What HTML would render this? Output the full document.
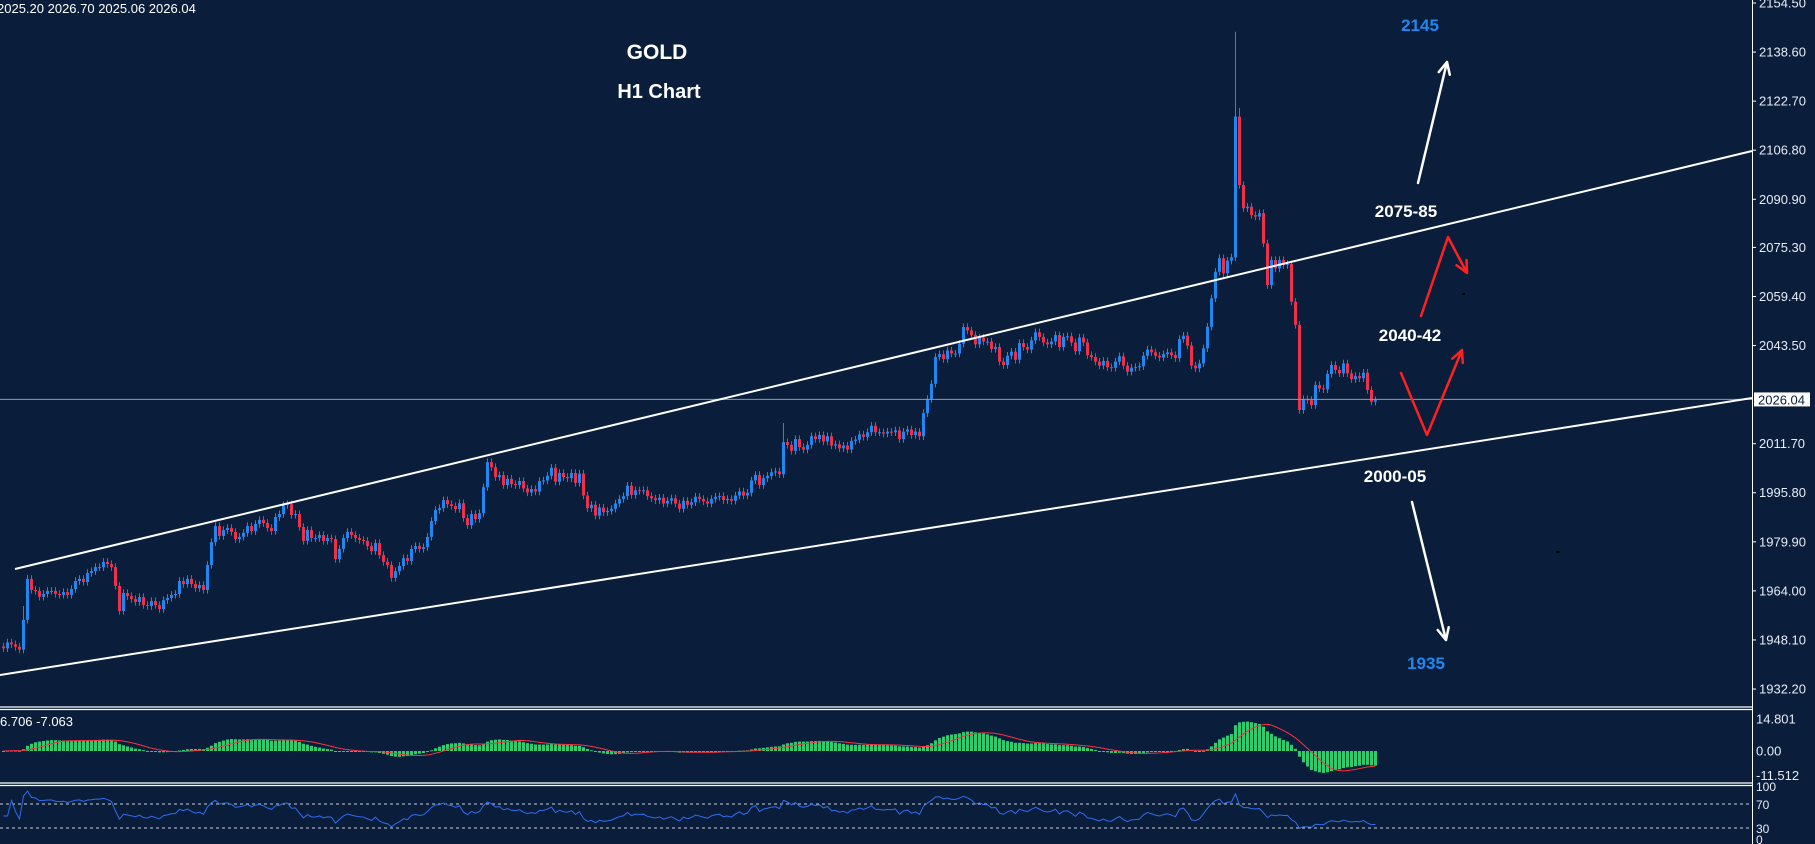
<!DOCTYPE html>
<html><head><meta charset="utf-8"><title>GOLD H1 Chart</title>
<style>
html,body{margin:0;padding:0;background:#0a1e3b;overflow:hidden;}
svg{display:block;font-family:"Liberation Sans","DejaVu Sans",sans-serif;}
</style></head>
<body>
<svg id="chart" width="1815" height="844" viewBox="0 0 1815 844" xmlns="http://www.w3.org/2000/svg">
<rect x="0" y="0" width="1815" height="844" fill="#0a1e3b"/>
<g id="candles"></g>
<g id="overlay"></g>
<g id="axis"></g>
<g id="macd"></g>
<g id="rsi"></g>
<text x="-3" y="13" fill="#ffffff" font-size="13">2025.20 2026.70 2025.06 2026.04</text>
<text x="657" y="59" fill="#ffffff" font-size="21" font-weight="bold" text-anchor="middle">GOLD</text>
<text x="659" y="98" fill="#ffffff" font-size="20" font-weight="bold" text-anchor="middle">H1 Chart</text>
<text x="1420" y="31" fill="#1e88f0" font-size="17" font-weight="bold" text-anchor="middle">2145</text>
<text x="1406" y="217" fill="#ffffff" font-size="17" font-weight="bold" text-anchor="middle">2075-85</text>
<text x="1410" y="341" fill="#ffffff" font-size="17" font-weight="bold" text-anchor="middle">2040-42</text>
<text x="1395" y="482" fill="#ffffff" font-size="17" font-weight="bold" text-anchor="middle">2000-05</text>
<text x="1426" y="669" fill="#1e88f0" font-size="17" font-weight="bold" text-anchor="middle">1935</text>
<text x="0" y="726" fill="#ffffff" font-size="13">6.706 -7.063</text>
</svg>
<script>
// ---- data ----
const closes = [
1945.4,1947.3,1946.7,1945.9,1945.0,1954.6,1967.9,1964.3,1964.0,1962.1,
1963.0,1964.0,1964.0,1963.0,1962.7,1963.6,1962.7,1964.6,1967.2,1967.9,
1966.9,1969.8,1970.4,1971.7,1971.7,1973.4,1972.7,1971.7,1965.6,1957.5,
1963.3,1962.3,1961.4,1960.4,1962.0,1959.4,1959.1,1960.7,1959.4,1958.1,
1961.0,1961.7,1962.7,1963.0,1967.2,1966.2,1967.9,1966.2,1964.9,1965.9,
1964.3,1972.4,1979.8,1985.0,1981.8,1983.7,1984.4,1983.1,1980.8,1981.5,
1982.8,1985.0,1983.4,1985.7,1987.0,1986.0,1984.4,1983.4,1987.9,1988.9,
1991.8,1992.1,1988.6,1988.9,1984.7,1980.2,1983.7,1981.1,1981.1,1982.1,
1980.2,1981.1,1980.8,1974.3,1977.6,1981.1,1983.1,1982.1,1981.1,1980.5,
1980.2,1978.5,1976.9,1979.5,1975.6,1973.4,1972.4,1968.2,1970.4,1972.1,
1974.6,1973.7,1977.6,1978.5,1977.6,1978.2,1981.5,1986.6,1990.2,1990.8,
1993.4,1992.1,1991.5,1990.5,1992.4,1987.6,1985.3,1988.9,1987.3,1989.2,
1997.6,2005.7,2004.1,2000.9,2001.5,
1998.3,2000.3,1998.6,1998.3,1999.6,1997.2,1995.9,1997.0,1996.2,1999.6,
1999.8,2001.3,2003.9,1999.4,2002.2,2000.9,2000.5,2002.2,1999.0,2002.0,
1994.9,1990.8,1991.9,1988.4,1991.0,1989.5,1989.9,1990.6,1992.3,1993.8,
1994.7,1998.1,1995.1,1996.6,1996.4,1996.6,1994.7,1994.0,1993.4,1994.2,
1992.3,1993.2,1994.0,1992.3,1990.6,1993.2,1991.9,1992.7,1994.5,1993.8,
1993.0,1992.3,1993.8,1994.5,1994.7,1993.4,1993.8,1993.2,1994.9,1996.2,
1994.9,1995.8,1999.8,2001.6,1998.3,2000.5,2001.3,2002.4,2002.7,2001.8,
2012.2,2011.3,2009.4,2013.2,2010.6,2009.8,2011.3,2014.1,2013.2,2014.5,
2012.4,2014.1,2011.1,2011.5,2010.2,2011.1,2009.8,2012.6,2013.0,2014.7,
2013.9,2015.4,2017.5,2015.4,2015.4,2015.0,2015.6,2015.4,2016.0,2013.2,
2015.6,2016.3,2014.5,2015.6,
2014.1,2021.6,2026.2,2031.1,2039.8,2040.7,2039.1,2041.9,2040.9,2040.9,
2044.1,2049.5,2048.4,2046.9,2043.9,2046.1,2044.8,2044.8,2042.4,2043.0,
2038.3,2037.2,2040.2,2041.5,2038.9,2044.3,2043.0,2042.2,2045.2,2047.8,
2046.3,2044.5,2043.9,2044.8,2046.9,2043.0,2046.3,2046.5,2044.5,2041.7,
2046.1,2044.5,2040.4,2039.8,2038.3,2037.0,2038.5,2036.5,2036.3,2038.3,
2040.0,2037.0,2035.0,2036.3,2036.5,2036.8,2040.2,2042.2,2041.3,2040.2,
2039.6,2040.7,2041.3,2040.4,2039.4,2045.6,2046.7,2043.5,2037.0,
2036.1,2037.7,2042.6,2049.6,2058.8,2067.4,2071.8,2066.9,2071.0,2072.1,
2117.7,2095.5,2088.0,2088.5,2085.8,2085.3,2086.4,2076.6,2063.1,2071.2,
2068.5,2071.2,2069.6,2069.9,2057.7,2050.2,2022.6,2026.1,2025.9,2024.2,
2030.7,2029.6,2029.3,2034.3,2037.2,2035.6,2034.5,2037.7,2034.5,2032.6,
2033.6,2032.9,2034.7,2029.1,2025.3,2025.8
];
const firstOpen = 1946.0;
const highIdx = [5, 6, 195, 308, 309];
const highVal = [1959.1, 1969.2, 2018.4, 2145.2, 2120.5];
const priceTicks = [2154.50,2138.60,2122.70,2106.80,2090.90,2075.30,2059.40,2043.50,2011.70,1995.80,1979.90,1964.00,1948.10,1932.20];
const lastPrice = 2026.04;
const macdTicks = [14.801, 0.00, -11.512];
const rsiTicks = [100, 70, 30, 0];

// ---- scales ----
const NS = "http://www.w3.org/2000/svg";
const PLOT_R = 1752;
function yP(p){ return 3 + (2154.5 - p) * 3.086; }
function xI(i){ return 3.5 + i * 4; }
function yM(v){ return 751 - v * 2.16; }
function yR(v){ return 846 - v * 0.6; }
function mk(tag, attrs, parent){
  const e = document.createElementNS(NS, tag);
  for (const k in attrs) e.setAttribute(k, attrs[k]);
  parent.appendChild(e);
  return e;
}

// ---- candles ----
const gC = document.getElementById('candles');
const BLUE = '#1e88f0', RED = '#f0304a';
for (let i = 0; i < closes.length; i++){
  const o = i === 0 ? firstOpen : closes[i-1];
  const c = closes[i];
  let hi = Math.max(o,c) + 1.2, lo = Math.min(o,c) - 1.2;
  const k = highIdx.indexOf(i);
  if (k >= 0) hi = highVal[k];
  const col = c >= o ? BLUE : RED;
  const x = xI(i);
  const g = mk('g', {}, gC);
  
  
  mk('line', {x1:x, x2:x, y1:yP(hi), y2:yP(lo), stroke:col, 'stroke-width':1}, g);
  const yt = yP(Math.max(o,c)), yb = yP(Math.min(o,c));
  mk('rect', {x:x-1.5, y:yt, width:3, height:Math.max(1, yb-yt), fill:col}, g);
}

// ---- overlay drawings ----
const gO = document.getElementById('overlay');
let e;
e = mk('line', {x1:0, y1:yP(lastPrice), x2:PLOT_R, y2:yP(lastPrice), stroke:'#8a9bb0', 'stroke-width':1}, gO);


e = mk('line', {x1:15, y1:569, x2:PLOT_R, y2:151, stroke:'#ffffff', 'stroke-width':2}, gO);


e = mk('line', {x1:0, y1:675, x2:PLOT_R, y2:398, stroke:'#ffffff', 'stroke-width':2}, gO);



function arrowPath(pts, color, name){
  let d = 'M' + pts.map(p => p[0] + ',' + p[1]).join(' L');
  const a = pts[pts.length-2], b = pts[pts.length-1];
  const ang = Math.atan2(b[1]-a[1], b[0]-a[0]);
  const L = 13;
  for (const s of [-0.45, 0.45]){
    d += ' M' + b[0] + ',' + b[1] + ' L' + (b[0] - L*Math.cos(ang+s)) + ',' + (b[1] - L*Math.sin(ang+s));
  }
  const p = mk('path', {d:d, fill:'none', stroke:color, 'stroke-width':2.5, 'stroke-linecap':'round', 'stroke-linejoin':'round'}, gO);
  
  
}
arrowPath([[1418,183],[1447,62]], '#ffffff', 'up-target-arrow');
arrowPath([[1421,316],[1448,237],[1467,273]], '#ff2020', 'rejection-arrow');
arrowPath([[1401,373],[1427,435],[1462,350]], '#ff2020', 'bounce-arrow');
arrowPath([[1412,502],[1446,640]], '#ffffff', 'down-target-arrow');
e = mk('rect', {x:1462, y:293, width:3, height:2, fill:'#000'}, gO);


e = mk('rect', {x:1556, y:551, width:4, height:2, fill:'#000'}, gO);



// ---- price axis ----
const gA = document.getElementById('axis');
e = mk('line', {x1:PLOT_R+0.5, y1:0, x2:PLOT_R+0.5, y2:844, stroke:'#ffffff', 'stroke-width':1}, gA);


priceTicks.forEach(t => {
  const y = yP(t);
  mk('line', {x1:PLOT_R, x2:PLOT_R+4, y1:y, y2:y, stroke:'#ffffff', 'stroke-width':1}, gA);
  const tx = mk('text', {x:PLOT_R+7, y:y+4.5, fill:'#e6ecf5', 'font-size':13}, gA);
  
  
  tx.textContent = t.toFixed(2);
});
{
  const y = yP(lastPrice);
  const bx = mk('rect', {x:PLOT_R+2, y:y-7, width:56, height:14, fill:'#ffffff'}, gA);
  
  
  const tx = mk('text', {x:PLOT_R+6, y:y+5, fill:'#0a1e3b', 'font-size':13}, gA);
  
  
  tx.textContent = lastPrice.toFixed(2);
}
// panel separators
[[707,709.5],[783,785.5]].forEach(pair => {
  pair.forEach(y => {
    const l = mk('line', {x1:0, x2:PLOT_R, y1:y, y2:y, stroke:'#ffffff', 'stroke-width':1.2}, gA);
    
    
  });
});

// ---- MACD (12,26,9) derived from closes ----
function ema(arr, n){ const k = 2/(n+1); const out = []; let v = arr[0]; for (const a of arr){ v = a*k + v*(1-k); out.push(v);} return out; }
const e12 = ema(closes, 12), e26 = ema(closes, 26);
const macdVals = closes.map((_, i) => e12[i] - e26[i]);
const sigVals = macdVals.map((_, i) => { const s = Math.max(0, i-8); const w = macdVals.slice(s, i+1); return w.reduce((a,b)=>a+b,0)/w.length; });
const gM = document.getElementById('macd');
macdVals.forEach((v, i) => {
  const y0 = yM(0), y1 = Math.max(712, Math.min(781, yM(v)));
  const r = mk('rect', {x:xI(i)-1.5, y:Math.min(y0,y1), width:3, height:Math.max(1, Math.abs(y1-y0)), fill:'#2ecc71'}, gM);
  
  
});
e = mk('polyline', {points: sigVals.map((v,i)=> xI(i)+','+Math.max(712,Math.min(781,yM(v)))).join(' '), fill:'none', stroke:'#ff3040', 'stroke-width':1}, gM);


macdTicks.forEach(t => {
  const tx = mk('text', {x:PLOT_R+4, y:Math.min(780, Math.max(722, yM(t)+4.5)), fill:'#e6ecf5', 'font-size':13}, gM);
  
  
  tx.textContent = t === 0 ? '0.00' : t.toFixed(3);
});

// ---- RSI(14) derived from closes ----
const rsiVals = [];
{ let ag = 0, al = 0; const n = 14;
  for (let i = 0; i < closes.length; i++){
    const d = i === 0 ? 0 : closes[i]-closes[i-1];
    const g = Math.max(d,0), l = Math.max(-d,0);
    if (i <= n){ ag += g/n; al += l/n; } else { ag = (ag*(n-1)+g)/n; al = (al*(n-1)+l)/n; }
    rsiVals.push(al === 0 ? 50 : 100 - 100/(1+ag/al));
  } }
const gR = document.getElementById('rsi');
[70, 30].forEach(lv => {
  const l = mk('line', {x1:0, x2:PLOT_R, y1:yR(lv), y2:yR(lv), stroke:'#c8cdd6', 'stroke-width':1, 'stroke-dasharray':'3,3'}, gR);
  
  
});
e = mk('polyline', {points: rsiVals.map((v,i)=> xI(i)+','+yR(v)).join(' '), fill:'none', stroke:'#2f6cf0', 'stroke-width':1}, gR);


rsiTicks.forEach(t => {
  const tx = mk('text', {x:PLOT_R+4, y:Math.min(844, yR(t)+5), fill:'#e6ecf5', 'font-size':12}, gR);
  
  
  tx.textContent = String(t);
});
</script>
</body></html>
